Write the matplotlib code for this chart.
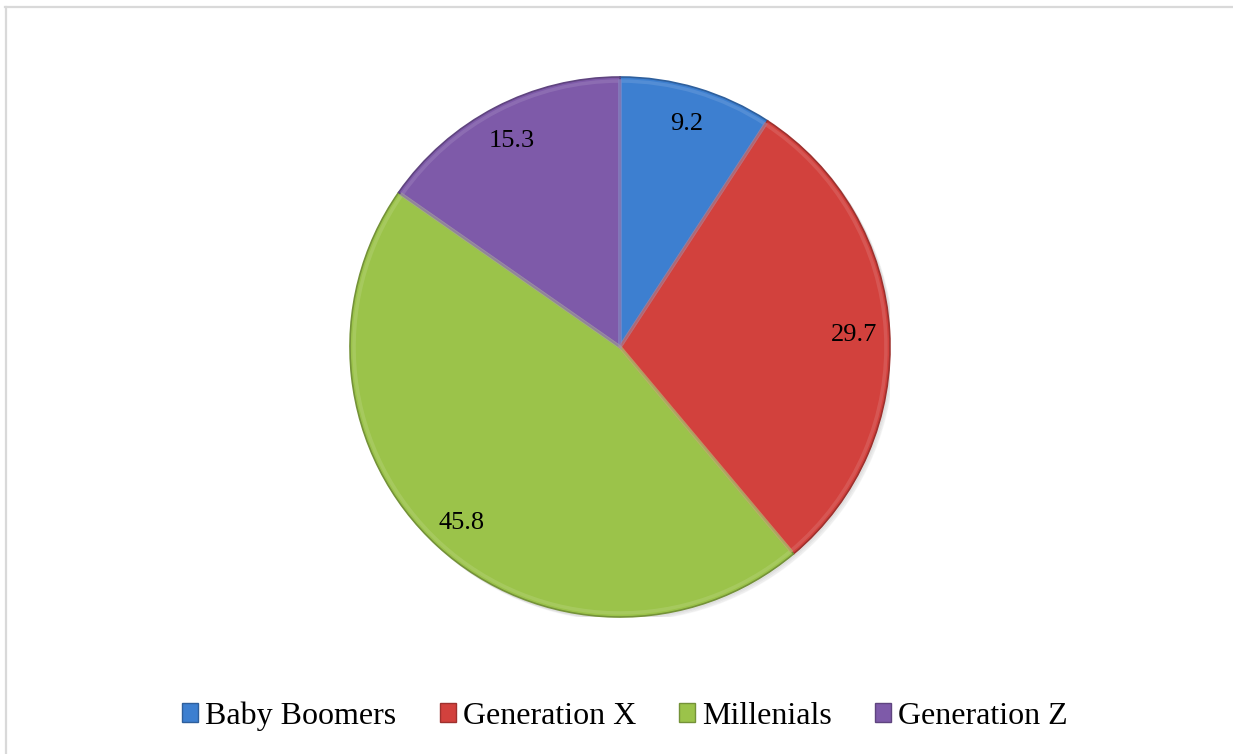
import matplotlib.pyplot as plt
from matplotlib.lines import Line2D
from matplotlib.colors import to_rgb

# Dados do grafico
geracoes = ["Baby Boomers", "Generation X", "Millenials", "Generation Z"]
valores = [9.2, 29.7, 45.8, 15.3]
cores = ["#3d7fd0", "#d2413d", "#9bc34a", "#7e5aa9"]

plt.rcParams["font.family"] = ["Liberation Serif", "DejaVu Serif"]


def escurece(cor, f=0.7):
    r, g, b = to_rgb(cor)
    return (r * f, g * f, b * f)


def clareia(cor, f=0.35):
    r, g, b = to_rgb(cor)
    return (r + (1 - r) * f, g + (1 - g) * f, b + (1 - b) * f)


fig = plt.figure(figsize=(12.33, 7.54), dpi=100)
ax = fig.add_axes([350 / 1233, 137 / 754, 540 / 1233, 540 / 754])

# sombra suave atras do grafico
for i in range(3):
    sombra = plt.Circle((0.006 + i * 0.004, -0.006 - i * 0.004), 1.0,
                        color="black", alpha=0.035, zorder=0)
    ax.add_patch(sombra)

wedges, textos = ax.pie(
    valores, colors=cores, startangle=90, counterclock=False, radius=1.0,
    labels=[f"{v:.1f}" for v in valores], labeldistance=0.87,
    textprops={"fontsize": 19, "ha": "center", "va": "center_baseline"},
    wedgeprops={"linewidth": 1.2, "zorder": 2},
)
for w, c in zip(wedges, cores):
    w.set_edgecolor(escurece(c, 0.75))

# efeito de chanfro: contorno claro logo dentro de cada fatia
chanfro, _ = ax.pie(
    valores, colors=["none"] * 4, startangle=90, counterclock=False,
    radius=0.985, wedgeprops={"linewidth": 2.5, "zorder": 3},
)
for w, c in zip(chanfro, cores):
    w.set_edgecolor(clareia(c, 0.25))
    w.set_alpha(0.45)

for t in textos:
    t.set_zorder(5)

ax.set_xlim(-1, 1)
ax.set_ylim(-1, 1)
ax.set_aspect("equal")
ax.axis("off")

# legenda na parte de baixo
handles = [plt.Rectangle((0, 0), 1, 1, facecolor=c, edgecolor=escurece(c, 0.75))
           for c in cores]
fig.legend(handles, geracoes, loc="center", bbox_to_anchor=(625 / 1233, 1 - 716 / 754),
           ncol=4, frameon=False, fontsize=23, handlelength=0.5, handleheight=0.5,
           handletextpad=0.22, columnspacing=1.35)

# moldura cinza (topo e esquerda)
fig.add_artist(Line2D([5 / 1233, 1232 / 1233], [1 - 7 / 754, 1 - 7 / 754],
                      transform=fig.transFigure, color="#d9d9d9", linewidth=1.6))
fig.add_artist(Line2D([6 / 1233, 6 / 1233], [0, 1 - 7 / 754],
                      transform=fig.transFigure, color="#d9d9d9", linewidth=1.6))

fig.savefig("out.png", dpi=100)
